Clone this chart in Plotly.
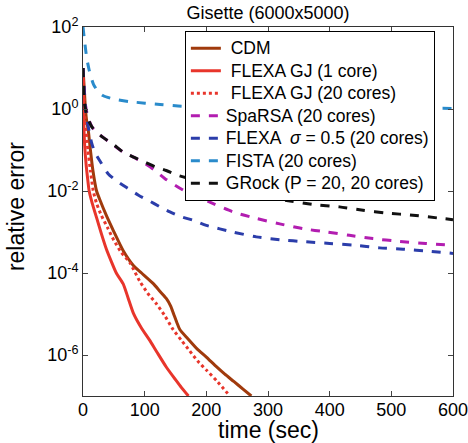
import plotly.graph_objects as go

# ---- data (time in sec, relative error) ----
cdm_t = [0, 2, 4, 6, 8.6, 12, 16, 22, 27, 38, 49, 65, 82, 95, 114, 125, 135, 142, 147, 152, 157, 170, 185, 200, 215, 230, 245, 260, 273]
cdm_y = [10, 3.2, 1.0, 0.5, 0.30, 0.1, 0.032, 0.01, 6.3e-3, 2.5e-3, 1.1e-3, 3.55e-4, 1.51e-4, 1e-4, 5.5e-5, 3.55e-5, 2.4e-5, 1.58e-5, 1e-5, 6.3e-6, 4.2e-6, 2.5e-6, 1.41e-6, 8.9e-7, 5.4e-7, 3.4e-7, 2.24e-7, 1.45e-7, 1e-7]

gj1_t = [0, 0.8, 1.6, 3, 5, 7.5, 10, 15, 22, 30, 38, 46, 54, 65, 73, 82, 95, 108, 120, 135, 150, 160, 171]
gj1_y = [10, 2.0, 0.30, 0.11, 0.045, 0.02, 0.01, 5e-3, 2.24e-3, 8.9e-4, 3.8e-4, 1.9e-4, 1e-4, 5.5e-5, 2.5e-5, 1.02e-5, 4.5e-6, 2.3e-6, 1.17e-6, 5.1e-7, 2.5e-7, 1.58e-7, 1e-7]

gj20_t = [0, 1.5, 3, 5, 8, 12, 16.7, 22, 30, 40, 50, 62, 76, 92, 105, 119, 133, 146, 160, 173, 186, 200, 218, 238]
gj20_y = [10, 2.0, 0.63, 0.30, 0.1, 0.032, 0.01, 5e-3, 2.5e-3, 1.26e-3, 6.3e-4, 3.2e-4, 1.78e-4, 6.3e-5, 3.2e-5, 1.78e-5, 8.9e-6, 4.2e-6, 2.24e-6, 1.26e-6, 7.1e-7, 4.3e-7, 2.24e-7, 1e-7]

sparsa_t = [0, 2, 4, 8, 15, 25, 33, 46, 65, 81, 100, 114, 133, 165, 203, 243, 281, 319, 357, 395, 432, 470, 513, 556, 600]
sparsa_y = [10, 3.2, 1.26, 0.63, 0.355, 0.25, 0.2, 0.145, 0.089, 0.068, 0.047, 0.034, 0.02, 0.01, 5.6e-3, 3.1e-3, 2.14e-3, 1.58e-3, 1.2e-3, 1e-3, 8.3e-4, 6.9e-4, 5.9e-4, 5.25e-4, 4.7e-4]

flexa_t = [0, 2, 4, 7, 10, 14, 19, 30, 41, 57, 73, 90, 106, 125, 141, 160, 178, 200, 243, 281, 319, 362, 400, 438, 481, 519, 562, 600]
flexa_y = [10, 2.5, 1.0, 0.5, 0.28, 0.15, 0.089, 0.047, 0.026, 0.0166, 0.0115, 7.9e-3, 5.9e-3, 4.1e-3, 3.1e-3, 2.34e-3, 1.95e-3, 1.45e-3, 1e-3, 7.6e-4, 6.5e-4, 5.75e-4, 5.25e-4, 4.8e-4, 4.1e-4, 3.8e-4, 3.4e-4, 3.0e-4]

fista_t = [0, 3, 6, 10, 17, 25, 33, 50, 76, 125, 160, 211, 300, 400, 500, 600]
fista_y = [100, 40, 17.8, 8.9, 4.0, 2.6, 2.1, 1.74, 1.51, 1.29, 1.17, 1.12, 1.1, 1.07, 1.05, 1.035]

grock_t = [0, 1, 2, 4, 7, 15, 25, 33, 49, 65, 81, 100, 117, 135, 154, 173, 192, 220, 254, 292, 330, 373, 416, 454, 492, 535, 575, 600]
grock_y = [10, 4.0, 1.6, 1.0, 0.63, 0.355, 0.25, 0.2, 0.138, 0.089, 0.068, 0.051, 0.039, 0.0316, 0.024, 0.02, 0.0166, 0.0126, 9.5e-3, 7.1e-3, 5.9e-3, 4.7e-3, 4.1e-3, 3.4e-3, 2.9e-3, 2.57e-3, 2.2e-3, 2.0e-3]

x_ticks = [0, 100, 200, 300, 400, 500, 600]
y_tickvals = [1e-6, 1e-4, 1e-2, 1e0, 1e2]
y_ticktext = ["10<sup>-6</sup>", "10<sup>-4</sup>", "10<sup>-2</sup>", "10<sup>0</sup>", "10<sup>2</sup>"]

FONT = "Liberation Sans, Arial, Helvetica, sans-serif"

series = [
    ("\u00a0CDM", cdm_t, cdm_y, "#A03A0C", "solid"),
    ("\u00a0FLEXA GJ (1 core)", gj1_t, gj1_y, "#E8352B", "solid"),
    ("\u00a0FLEXA GJ (20 cores)", gj20_t, gj20_y, "#E8352B", "dot"),
    ("SpaRSA (20 cores)", sparsa_t, sparsa_y, "#B21DB0", "dash"),
    ("FLEXA  <i>σ</i> = 0.5 (20 cores)", flexa_t, flexa_y, "#2B3DAA", "dash"),
    ("FISTA (20 cores)", fista_t, fista_y, "#2A8BCB", "dash"),
    ("GRock (P = 20, 20 cores)", grock_t, grock_y, "#111111", "dash"),
]

fig = go.Figure()
for name, t, y, c, d in series:
    fig.add_trace(go.Scatter(x=t, y=y, name='<span style="font-size:17.5px">' + name + '</span>',
                             mode="lines",
                             line=dict(color=c, width=3, dash=d, shape="spline", smoothing=0.6)))

fig.update_layout(
    template="none",
    width=468, height=443, autosize=False,
    margin=dict(l=83, r=15, t=27, b=47, autoexpand=False),
    paper_bgcolor="white", plot_bgcolor="white",
    font=dict(family=FONT, size=18, color="black"),
    title=dict(text="Gisette (6000x5000)", x=0.5, xref="paper", xanchor="center",
               y=1 - 13 / 443, yanchor="middle", font=dict(size=18)),
    legend=dict(x=0.951, y=0.989, xanchor="right", yanchor="top",
                bgcolor="white", bordercolor="black", borderwidth=1,
                font=dict(size=15), tracegroupgap=0, itemwidth=30),
    showlegend=True,
    annotations=[
        dict(text="time (sec)", xref="paper", yref="paper", x=0.5, y=-0.092,
             xanchor="center", yanchor="middle", showarrow=False, font=dict(size=23)),
        dict(text="relative error", xref="paper", yref="paper", x=-0.181, y=0.512,
             xanchor="center", yanchor="middle", textangle=-90, showarrow=False,
             font=dict(size=23)),
    ],
)
fig.update_xaxes(range=[0, 600], tickvals=x_ticks, ticks="inside", ticklen=5,
                 showline=True, linecolor="#333", linewidth=1, mirror="ticks",
                 showgrid=False, zeroline=False, tickfont=dict(size=18), automargin=False,
                 ticklabeloverflow="allow", ticklabelstandoff=-3)
fig.update_yaxes(type="log", range=[-7, 2], tickvals=y_tickvals, ticktext=y_ticktext,
                 ticks="inside", ticklen=5, showline=True, linecolor="#333", linewidth=1,
                 mirror="ticks", showgrid=False, zeroline=False, tickfont=dict(size=18),
                 automargin=False, ticklabeloverflow="allow")

fig.write_html("out.html")
